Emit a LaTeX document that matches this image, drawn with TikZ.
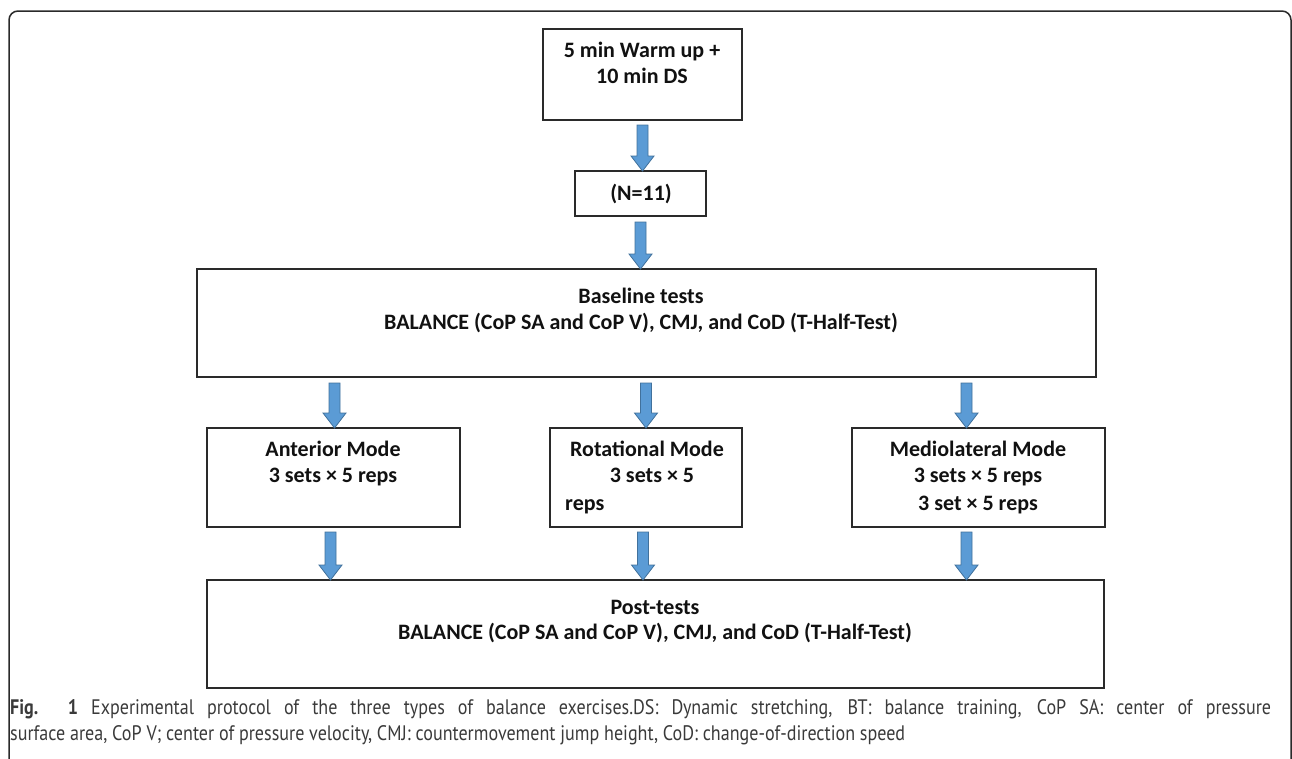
\documentclass[tikz,border=0pt]{standalone}
\usepackage{fontspec}
\usepackage{graphicx}
\setmainfont{Carlito}
\newfontfamily\capfont{PT Sans}
\usetikzlibrary{calc}
\definecolor{arrfill}{HTML}{5B9BD5}
\definecolor{arredge}{HTML}{41719C}
\definecolor{boxline}{HTML}{2A2A2A}
\definecolor{txtcol}{HTML}{111111}
\definecolor{captxt}{HTML}{3A3A3A}
\newlength\mycapw
\newcommand\mycapsize{\capfont\fontsize{21}{24}\selectfont}
\newcommand\mycaplineA{\textbf{Fig. 1} Experimental protocol of the three types of balance exercises.DS: Dynamic stretching, BT: balance training, CoP SA: center of pressure}
\newcommand\mycaplineB{surface area, CoP V; center of pressure velocity, CMJ: countermovement jump height, CoD: change-of-direction speed}
\begin{document}
\settowidth\mycapw{\mycapsize\mycaplineB}
\pgfmathsetmacro\mycapf{895pt/\mycapw}
\pgfmathsetlengthmacro\mycapLa{1261pt/\mycapf}
\begin{tikzpicture}[x=1pt,y=-1pt,
  box/.style={draw=boxline,line width=1.4pt,inner sep=0pt,outer sep=0pt,fill=white},
  txt/.style={anchor=base,inner sep=0pt,text=txtcol,font=\fontsize{22}{26}\selectfont\bfseries},
  captext/.style={anchor=base west,inner sep=0pt,text=captxt,font=\mycapsize},
  arr/.style={fill=arrfill,draw=arredge,line width=0.8pt,
    to path={let \p1=(\tikztostart),\p2=(\tikztotarget) in
      (\x1-5.5pt,\y1) -- (\x1+5.5pt,\y1) -- (\x1+5.5pt,\y2+15pt) -- (\x1+11.5pt,\y2+15pt)
      -- (\x1,\y2) -- (\x1-11.5pt,\y2+15pt) -- (\x1-5.5pt,\y2+15pt) -- cycle}}]
\useasboundingbox (0,0) rectangle (1292,758);
% outer frame
\draw[draw=boxline,line width=1.5pt,rounded corners=9pt] (9,770) -- (9,11) -- (1291,11) -- (1291,770);

% boxes
\node[box,minimum width=199pt,minimum height=91pt] (b1) at (642.5,74.5) {};
\node[box,minimum width=131pt,minimum height=45pt] (nb) at (640.5,193.5) {};
\node[box,minimum width=899pt,minimum height=108pt] (base) at (646.5,323) {};
\node[box,minimum width=253pt,minimum height=99pt] (ant) at (333.5,477.5) {};
\node[box,minimum width=192pt,minimum height=99pt] (rot) at (646,477.5) {};
\node[box,minimum width=253pt,minimum height=99pt] (med) at (978.5,477.5) {};
\node[box,minimum width=897pt,minimum height=108pt] (post) at (655.5,634) {};

% texts
\node[txt] (t1a) at (642,57) {5 min Warm up +};
\node[txt] (t1b) at (642,83) {10 min DS};
\node[txt] (tn) at (641,200) {(N=11)};
\node[txt] (tba) at (641,303) {Baseline tests};
\node[txt] (tbb) at (641,329) {BALANCE (CoP SA and CoP V), CMJ, and CoD (T-Half-Test)};
\node[txt] (taa) at (333,456) {Anterior Mode};
\node[txt] (tab) at (333,482) {3 sets × 5 reps};
\node[txt] (tra) at (647,456) {Rotational Mode};
\node[txt] (trb) at (652,482) {3 sets × 5};
\node[txt,anchor=base west] (trc) at (565,510) {reps};
\node[txt] (tma) at (978,456) {Mediolateral Mode};
\node[txt] (tmb) at (978,482) {3 sets × 5 reps};
\node[txt] (tmc) at (978,510) {3 set × 5 reps};
\node[txt] (tpa) at (655,614) {Post-tests};
\node[txt] (tpb) at (655,639) {BALANCE (CoP SA and CoP V), CMJ, and CoD (T-Half-Test)};

% arrows
\draw[arr] ([yshift=-5pt]b1.south) to (nb.north);
\draw[arr] ([yshift=-6pt]nb.south) to (base.north);
\draw[arr] ($(base.south -| ant.north)+(1,6)$) to (ant.north);
\draw[arr] ($(base.south -| rot.north)+(0,6)$) to (rot.north);
\draw[arr] ($(base.south -| med.north)+(-12,6)$) to (med.north);
\draw[arr] ($(ant.south)+(-3,5)$) to (post.north);
\draw[arr] ($(rot.south)+(-3,5)$) to (post.north);
\draw[arr] ($(med.south)+(-12,5)$) to (post.north);

% caption (justified first line, natural last line)
\node[captext] (cap1) at (10,714) {\scalebox{\mycapf}[1]{\makebox[\mycapLa][s]{\mycaplineA}}};
\node[captext] (cap2) at (10,740) {\scalebox{\mycapf}[1]{\mycaplineB}};
\end{tikzpicture}
\end{document}
